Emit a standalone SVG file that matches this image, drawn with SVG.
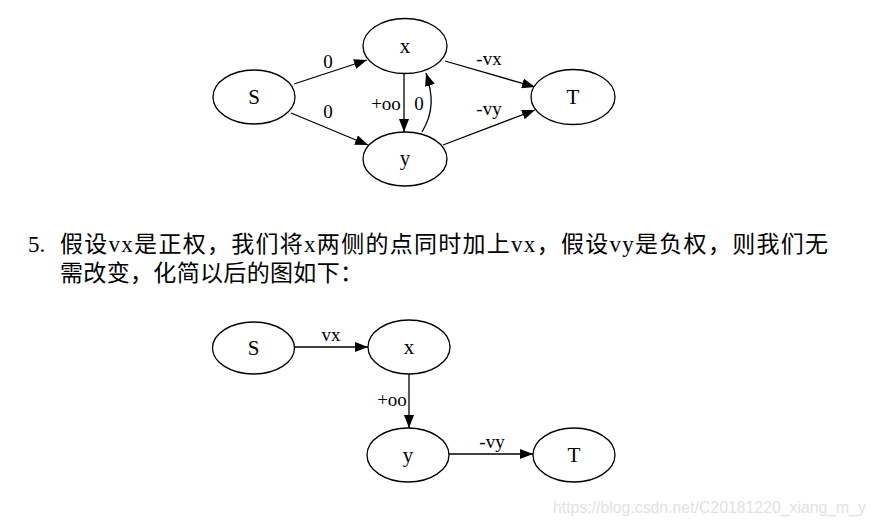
<svg xmlns="http://www.w3.org/2000/svg" width="877" height="523" viewBox="0 0 877 523">
<defs>
<marker id="arr" markerUnits="userSpaceOnUse" markerWidth="13" markerHeight="10" refX="13" refY="5" orient="auto">
<path d="M0,0 L13,5 L0,10 z" fill="#000"/>
</marker>
<style>
.node ellipse{fill:#fff;stroke:#000;stroke-width:1.3}
.nl{font-family:"Liberation Serif","Times New Roman",serif;font-size:21px;text-anchor:middle;fill:#000}
.el{font-family:"Liberation Serif","Times New Roman",serif;font-size:19px;text-anchor:middle;fill:#000}
.edges path,.edges line{stroke:#000;stroke-width:1.3;fill:none;marker-end:url(#arr)}
.para{font-family:"Liberation Serif","Noto Sans CJK SC",serif;font-size:23px;fill:#000}
.wm{font-family:"Liberation Sans",Arial,sans-serif;font-size:16px;fill:#e2e2e2}
</style>
</defs>
<rect width="877" height="523" fill="#fff"/>

<!-- Top graph -->
<g class="edges" id="edges1">
<line x1="294" y1="84" x2="367" y2="60"/>
<line x1="291" y1="113" x2="368" y2="145"/>
<line x1="404" y1="73" x2="404" y2="132"/>
<path d="M422,132 C434,112 433,95 426,73"/>
<line x1="445" y1="61" x2="535" y2="87"/>
<line x1="443" y1="145" x2="535" y2="110"/>
<text class="el" x="328" y="68">0</text>
<text class="el" x="328" y="118">0</text>
<text class="el" x="386" y="110">+oo</text>
<text class="el" x="419" y="110">0</text>
<text class="el" x="489" y="65">-vx</text>
<text class="el" x="489" y="115">-vy</text>
</g>
<g class="node" id="S1"><ellipse cx="254" cy="97" rx="41" ry="27"/><text class="nl" x="254" y="104">S</text></g>
<g class="node" id="x1"><ellipse cx="405" cy="46" rx="42" ry="27.5"/><text class="nl" x="405" y="53">x</text></g>
<g class="node" id="y1"><ellipse cx="405" cy="159" rx="42" ry="27"/><text class="nl" x="405" y="165">y</text></g>
<g class="node" id="T1"><ellipse cx="573" cy="97" rx="42" ry="27.5"/><text class="nl" x="573" y="104">T</text></g>

<!-- Paragraph -->
<text class="para" x="28" y="252" font-size="24">5.</text>
<text class="para" x="60" y="252" textLength="768" lengthAdjust="spacing">假设vx是正权，我们将x两侧的点同时加上vx，假设vy是负权，则我们无</text>
<text class="para" x="60" y="281" textLength="303" lengthAdjust="spacing">需改变，化简以后的图如下：</text>

<!-- Bottom graph -->
<g class="edges" id="edges2">
<line x1="294" y1="347" x2="368" y2="347"/>
<line x1="409" y1="374" x2="409" y2="428"/>
<line x1="449" y1="454" x2="533" y2="454"/>
<text class="el" x="331" y="341">vx</text>
<text class="el" x="392" y="406">+oo</text>
<text class="el" x="492" y="448">-vy</text>
</g>
<g class="node" id="S2"><ellipse cx="253.5" cy="348" rx="41" ry="26"/><text class="nl" x="253.5" y="355">S</text></g>
<g class="node" id="x2"><ellipse cx="409" cy="347" rx="41" ry="27"/><text class="nl" x="409" y="354">x</text></g>
<g class="node" id="y2"><ellipse cx="408" cy="455" rx="41" ry="27"/><text class="nl" x="408" y="462">y</text></g>
<g class="node" id="T2"><ellipse cx="574" cy="455" rx="41" ry="27"/><text class="nl" x="574" y="462">T</text></g>

<text class="wm" x="553" y="513" textLength="313" lengthAdjust="spacingAndGlyphs">https://blog.csdn.net/C20181220_xiang_m_y</text>
</svg>
